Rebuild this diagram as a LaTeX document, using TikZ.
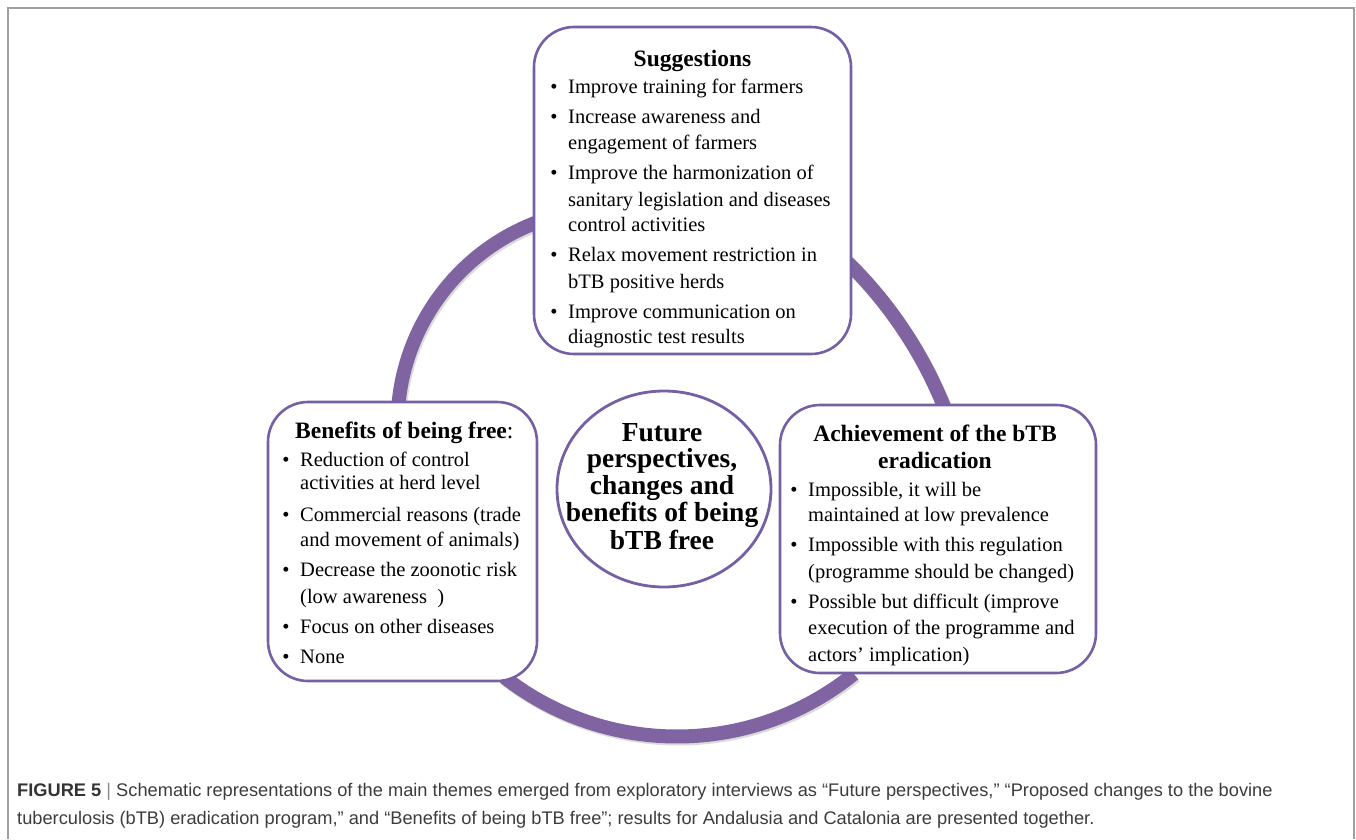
\documentclass[tikz,border=0pt]{standalone}
\usepackage{fontspec}
\setmainfont{Liberation Serif}
\newfontfamily\capfont{Liberation Sans}
\usetikzlibrary{shapes.geometric}
\definecolor{arcpurple}{HTML}{8064A2}
\definecolor{boxpurple}{HTML}{7560A3}
\definecolor{framegray}{HTML}{A0A0A0}
\definecolor{captext}{HTML}{3C3C3C}
\newcommand{\bodyfont}{\fontsize{20.5}{26}\selectfont}
\newcommand{\headfont}{\fontsize{23.5}{27}\selectfont}
\newcommand{\hubfont}{\fontsize{27.5}{28}\selectfont\bfseries}
\newcommand{\capsize}{\fontsize{18.25}{22}\selectfont}
\begin{document}
\begin{tikzpicture}[x=1pt,y=-1pt,
  themebox/.style={draw=boxpurple, line width=2.6pt, rounded corners=40pt, fill=white, inner sep=0pt},
  hubshape/.style={ellipse, draw=boxpurple, line width=2.8pt, fill=white, inner sep=0pt, minimum width=214pt, minimum height=196pt},
  ring/.style={draw=arcpurple, line width=14pt},
  ringshadow/.style={draw=black!14, line width=14pt},
  itemline/.style={anchor=base west, inner sep=0pt, font=\bodyfont},
  dot/.style={anchor=base, inner sep=0pt, font=\bodyfont},
  head/.style={anchor=base, inner sep=0pt, font=\headfont\bfseries},
  hubtext/.style={anchor=base, inner sep=0pt, font=\hubfont},
  captionline/.style={anchor=base west, inner sep=0pt, font=\capfont\capsize, text=captext}]

\useasboundingbox (0,0) rectangle (1356,839);
% frame
\draw[framegray, line width=2pt] (8,839) -- (8,8) -- (1354,8) -- (1354,839);

% ring segments (shadows, then arcs)
\draw[ringshadow, shift={(1.5,2)}] (613.5,424.2) ++(185.5:216) arc[start angle=185.5, end angle=249, radius=216];
\draw[ringshadow, shift={(1.5,2)}] (549.8,565.5) ++(314.5:425) arc[start angle=314.5, end angle=338, radius=425];
\draw[ringshadow, shift={(1.5,2)}] (677,455.5) ++(51:281) arc[start angle=51, end angle=128, radius=281];
\draw[ring] (613.5,424.2) ++(185.5:216) arc[start angle=185.5, end angle=249, radius=216];
\draw[ring] (549.8,565.5) ++(314.5:425) arc[start angle=314.5, end angle=338, radius=425];
\draw[ring] (677,455.5) ++(51:281) arc[start angle=51, end angle=128, radius=281];

% boxes
\node[themebox, minimum width=317pt, minimum height=327pt] (sugg) at (692.5,190.5) {};
\node[themebox, minimum width=269pt, minimum height=279pt] (bene) at (402.5,541.5) {};
\node[themebox, minimum width=316pt, minimum height=268pt] (achv) at (938,539) {};
\node[hubshape] (hub) at (664,489) {};

% hub text
\node[hubtext] (hub1) at (662,441) {Future};
\node[hubtext] (hub2) at (662,467) {perspectives,};
\node[hubtext] (hub3) at (662,494) {changes and};
\node[hubtext] (hub4) at (662,521) {benefits of being};
\node[hubtext] (hub5) at (662,549) {bTB free};

% Suggestions
\node[head] (sT) at (692.5,66) {Suggestions};
\node[dot] (sb1) at (554,93.2) {\textbullet};
\node[itemline] (s1) at (568,93.2) {Improve training for farmers};
\node[dot] (sb2) at (554,123.8) {\textbullet};
\node[itemline] (s2a) at (568,123.8) {Increase awareness and};
\node[itemline] (s2b) at (568,149.8) {engagement of farmers};
\node[dot] (sb3) at (554,179.8) {\textbullet};
\node[itemline] (s3a) at (568,179.8) {Improve the harmonization of};
\node[itemline] (s3b) at (568,206.5) {sanitary legislation and diseases};
\node[itemline] (s3c) at (568,231.5) {control activities};
\node[dot] (sb4) at (554,261.5) {\textbullet};
\node[itemline] (s4a) at (568,261.5) {Relax movement restriction in};
\node[itemline] (s4b) at (568,288.2) {bTB positive herds};
\node[dot] (sb5) at (554,318.2) {\textbullet};
\node[itemline] (s5a) at (568,318.2) {Improve communication on};
\node[itemline] (s5b) at (568,343.2) {diagnostic test results};

% Benefits
\node[anchor=base west, inner sep=0pt, font=\headfont] (bT) at (295,438) {\textbf{Benefits of being free}:};
\node[dot] (bb1) at (286,466.5) {\textbullet};
\node[itemline] (b1a) at (300,466.5) {Reduction of control};
\node[itemline] (b1b) at (300,489.5) {activities at herd level};
\node[dot] (bb2) at (286,521.5) {\textbullet};
\node[itemline] (b2a) at (300,521.5) {Commercial reasons (trade};
\node[itemline] (b2b) at (300,546.5) {and movement of animals)};
\node[dot] (bb3) at (286,576.5) {\textbullet};
\node[itemline] (b3a) at (300,576.5) {Decrease the zoonotic risk};
\node[itemline] (b3b) at (300,603.5) {(low awareness~~)};
\node[dot] (bb4) at (286,633.5) {\textbullet};
\node[itemline] (b4) at (300,633.5) {Focus on other diseases};
\node[dot] (bb5) at (286,663.5) {\textbullet};
\node[itemline] (b5) at (300,663.5) {None};

% Achievement
\node[head] (aT1) at (935,441) {Achievement of the bTB};
\node[head] (aT2) at (935,468) {eradication};
\node[dot] (ab1) at (794,496.5) {\textbullet};
\node[itemline] (a1a) at (808,496.5) {Impossible, it will be};
\node[itemline] (a1b) at (808,521.5) {maintained at low prevalence};
\node[dot] (ab2) at (794,551.5) {\textbullet};
\node[itemline] (a2a) at (808,551.5) {Impossible with this regulation};
\node[itemline] (a2b) at (808,578.5) {(programme should be changed)};
\node[dot] (ab3) at (794,608.5) {\textbullet};
\node[itemline] (a3a) at (808,608.5) {Possible but difficult (improve};
\node[itemline] (a3b) at (808,634.5) {execution of the programme and};
\node[itemline] (a3c) at (808,661.5) {actors’ implication)};

% caption
\node[captionline] (cap1) at (17,796) {\textbf{\color{black!80}FIGURE 5} {\color{black!45}|} Schematic representations of the main themes emerged from exploratory interviews as “Future perspectives,” “Proposed changes to the bovine};
\node[captionline] (cap2) at (17,824) {tuberculosis (bTB) eradication program,” and “Benefits of being bTB free”; results for Andalusia and Catalonia are presented together.};
\end{tikzpicture}
\end{document}
